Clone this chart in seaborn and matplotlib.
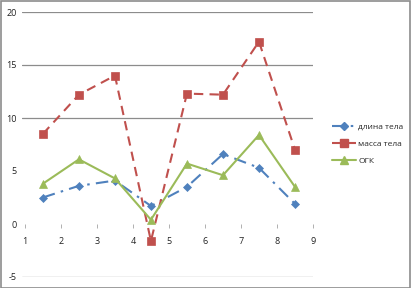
import matplotlib
matplotlib.use("Agg")
import matplotlib.pyplot as plt
import seaborn as sns
import pandas as pd
from matplotlib.lines import Line2D
from matplotlib.patches import Rectangle

sns.set_style("white")
plt.rcParams['font.family'] = ['Open Sans', 'DejaVu Sans']

positions = [1.5, 2.5, 3.5, 4.5, 5.5, 6.5, 7.5, 8.5]
length = [2.5, 3.6, 4.1, 1.7, 3.5, 6.6, 5.3, 1.9]
mass = [8.5, 12.2, 14.0, -1.6, 12.3, 12.2, 17.2, 7.0]
ogk = [3.8, 6.1, 4.3, 0.4, 5.7, 4.6, 8.4, 3.5]
series_names = ["длина тела", "масса тела", "ОГК"]
x_ticks = [1, 2, 3, 4, 5, 6, 7, 8, 9]
y_ticks = [-5, 0, 5, 10, 15, 20]
grid_levels = [-5, 10, 15, 20]

colors = ["#4F81BD", "#C0504D", "#9BBB59"]
styles = [(0, (6, 3, 1.2, 3)), (0, (4.5, 3)), "-"]
markers = ["D", "s", "^"]
msizes = [4.3, 5.6, 5.6]

fig = plt.figure(figsize=(4.11, 2.88), dpi=100)
ax = fig.add_axes([22/411, 11/288, 291/411, 265/288])

for lvl in grid_levels:
    ax.axhline(lvl, color="#8c8c8c", lw=0.9, zorder=0)

handles = []
for name, vals, c, ls, m, ms in zip(series_names, [length, mass, ogk], colors, styles, markers, msizes):
    df = pd.DataFrame({"x": positions, "y": vals})
    sns.lineplot(data=df, x="x", y="y", ax=ax, color=c, linestyle=ls, lw=1.5,
                 marker=m, markersize=ms, markeredgecolor=c, markeredgewidth=0.5)
    handles.append(Line2D([0], [0], color=c, linestyle=ls, lw=1.5, marker=m,
                          markersize=ms, markeredgecolor=c))

ax.set_xlim(0.92, 9.0)
ax.set_ylim(-5, 20)
ax.set_xticks(x_ticks)
ax.set_xticklabels([str(t) for t in x_ticks])
ax.set_yticks(y_ticks)
ax.set_yticklabels([str(t) for t in y_ticks])
ax.set_xlabel("")
ax.set_ylabel("")
for s in ax.spines.values():
    s.set_visible(False)
ax.spines['bottom'].set_position(('data', 0))
ax.tick_params(axis='x', length=3, width=0.7, color="#b0b0b0", direction='out',
               labelsize=6.5, pad=6, labelcolor="#222222", bottom=True)
ax.tick_params(axis='y', length=0, labelsize=6.5, pad=4, labelcolor="#222222")

fig.legend(handles, series_names, loc="center left", bbox_to_anchor=(328/411, 1 - 144/288),
           frameon=False, fontsize=6, handlelength=2.9, handletextpad=0.2,
           labelspacing=1.15, borderpad=0)

fig.patches.append(Rectangle((0.5/411, 0), 1 - 1.5/411, 1 - 0.5/288, transform=fig.transFigure,
                             fill=False, edgecolor="#8c8c8c", lw=1.2))

fig.savefig("out.png", dpi=100)
